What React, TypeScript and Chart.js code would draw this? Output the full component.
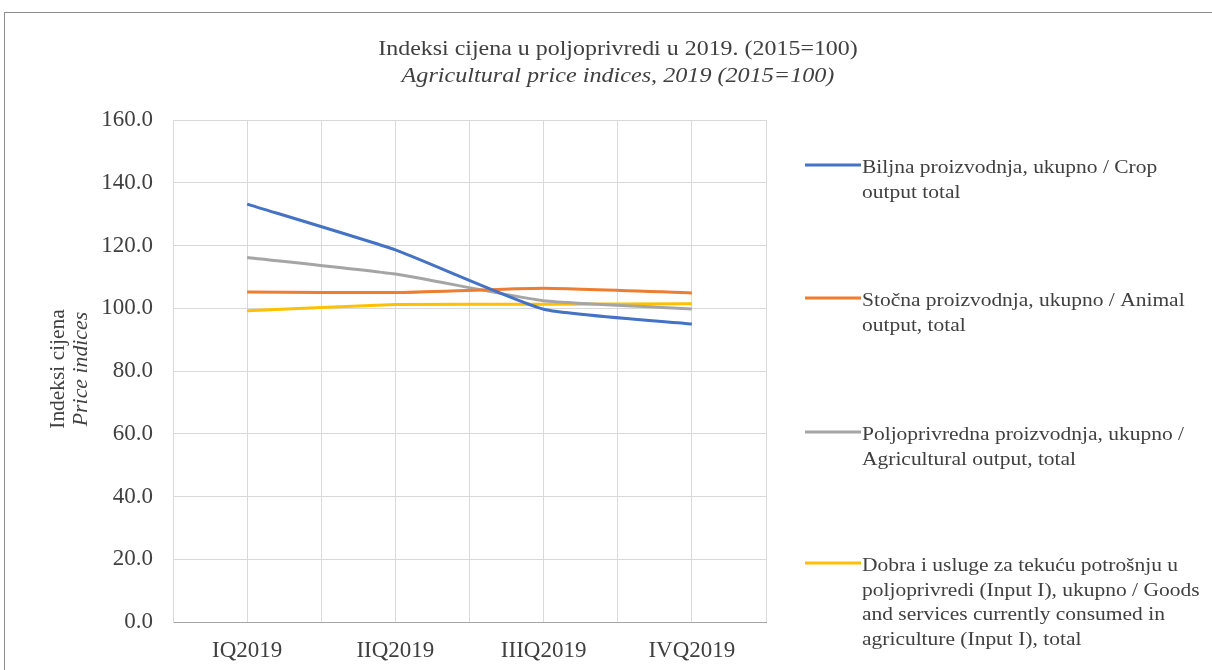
import React, { useEffect, useRef } from "react";
import { Chart, registerables } from "chart.js";

Chart.register(...registerables);

const categories = ["IQ2019", "IIQ2019", "IIIQ2019", "IVQ2019"];
const cropOutput = [133.2, 118.6, 99.7, 95.0];
const animalOutput = [105.2, 105.0, 106.4, 104.9];
const agriculturalOutput = [116.2, 110.9, 102.4, 99.8];
const inputI = [99.2, 101.2, 101.3, 101.4];

const seriesNames = [
  ["Biljna proizvodnja, ukupno / Crop", "output total"],
  ["Stočna proizvodnja, ukupno / Animal", "output, total"],
  ["Poljoprivredna proizvodnja, ukupno /", "Agricultural output, total"],
  [
    "Dobra i usluge za tekuću potrošnju u",
    "poljoprivredi (Input I), ukupno / Goods",
    "and services currently consumed in",
    "agriculture (Input I), total",
  ],
];
const seriesColors = ["#4472C4", "#ED7D31", "#A5A5A5", "#FFC000"];
const titleLines = [
  "Indeksi cijena u poljoprivredi u 2019. (2015=100)",
  "Agricultural price indices, 2019 (2015=100)",
];
const yTitleLines = ["Indeksi cijena", "Price indices"];

const FONT = "'Liberation Serif', 'Times New Roman', serif";
const TEXT = "#404040";

function wideText(ctx: any, text: string, x: number, y: number, sx: number) {
  ctx.save();
  ctx.translate(x, y);
  ctx.scale(sx, 1);
  ctx.fillText(text, 0, 0);
  ctx.restore();
}

const decorPlugin = {
  id: "decor",
  afterDraw(chart: any) {
    const ctx = chart.ctx;
    ctx.save();
    ctx.fillStyle = TEXT;
    ctx.textAlign = "center";
    ctx.textBaseline = "middle";
    ctx.font = `21px ${FONT}`;
    wideText(ctx, titleLines[0], 618, 49, 1.14);
    ctx.font = `italic 21px ${FONT}`;
    wideText(ctx, titleLines[1], 618, 76, 1.15);

    // y axis title (rotated)
    const cy = 369;
    ctx.save();
    ctx.translate(59, cy);
    ctx.rotate(-Math.PI / 2);
    ctx.font = `20px ${FONT}`;
    wideText(ctx, yTitleLines[0], 0, 0, 1.07);
    ctx.restore();
    ctx.save();
    ctx.translate(82, cy);
    ctx.rotate(-Math.PI / 2);
    ctx.font = `italic 20px ${FONT}`;
    wideText(ctx, yTitleLines[1], 0, 0, 1.09);
    ctx.restore();

    // legend
    const legendY = [165, 298, 432, 563];
    ctx.textAlign = "left";
    ctx.font = `19px ${FONT}`;
    chart.data.datasets.forEach((ds: any, i: number) => {
      const y = legendY[i];
      ctx.strokeStyle = ds.borderColor;
      ctx.lineWidth = 3;
      ctx.beginPath();
      ctx.moveTo(805, y);
      ctx.lineTo(861, y);
      ctx.stroke();
      ctx.fillStyle = TEXT;
      seriesNames[i].forEach((line, j) => {
        wideText(ctx, line, 862, y + 3 + j * 24.7, 1.13);
      });
    });
    ctx.restore();
  },
};

export default function App() {
  const ref = useRef<HTMLCanvasElement>(null);
  useEffect(() => {
    if (!ref.current) return;
    const series = [cropOutput, animalOutput, agriculturalOutput, inputI];
    const chart = new Chart(ref.current, {
      type: "line",
      data: {
        datasets: series.map((vals, i) => ({
          label: seriesNames[i].join(" "),
          data: vals.map((v, k) => ({ x: k, y: v })),
          borderColor: seriesColors[i],
          backgroundColor: seriesColors[i],
          borderWidth: 3,
          pointRadius: 0,
          tension: 0.15,
          fill: false,
        })),
      },
      options: {
        animation: false,
        responsive: false,
        maintainAspectRatio: false,
        layout: { padding: { left: 0, right: 446, top: 120, bottom: 0 } },
        plugins: {
          legend: { display: false },
          title: { display: false },
          tooltip: { enabled: false },
        },
        scales: {
          x: {
            type: "linear",
            min: -0.5,
            max: 3.5,
            afterFit: (s: any) => {
              s.height = 48;
            },
            afterBuildTicks: (s: any) => {
              const t = [];
              for (let v = -0.5; v <= 3.5001; v += 0.5) t.push({ value: v });
              s.ticks = t;
            },
            ticks: {
              autoSkip: false,
              maxRotation: 0,
              padding: 15,
              color: TEXT,
              font: { family: FONT, size: 23 },
              callback: (v: any) => {
                const n = Number(v);
                return Number.isInteger(n) ? categories[n] : "";
              },
            },
            grid: { color: "#D9D9D9", lineWidth: 1, drawTicks: false },
            border: { color: "#A6A6A6", width: 1 },
          },
          y: {
            min: 0,
            max: 160,
            afterFit: (s: any) => {
              s.width = 173;
            },
            ticks: {
              stepSize: 20,
              padding: 20,
              color: TEXT,
              font: { family: FONT, size: 23 },
              callback: (v: any) => Number(v).toFixed(1),
            },
            grid: { color: "#D9D9D9", lineWidth: 1, drawTicks: false },
            border: { color: "#D9D9D9", width: 1 },
          },
        },
      },
      plugins: [decorPlugin],
    });
    return () => chart.destroy();
  }, []);
  return (
    <div style={{ position: "absolute", left: 0, top: 0, width: 1212, height: 670, background: "#fff", overflow: "hidden" }}>
      <div style={{ position: "absolute", left: 4, top: 12, width: 1230, height: 700, border: "1px solid #8c8c8c" }} />
      <canvas ref={ref} width={1212} height={670} style={{ position: "absolute", left: 0, top: 0, width: 1212, height: 670 }} />
    </div>
  );
}
